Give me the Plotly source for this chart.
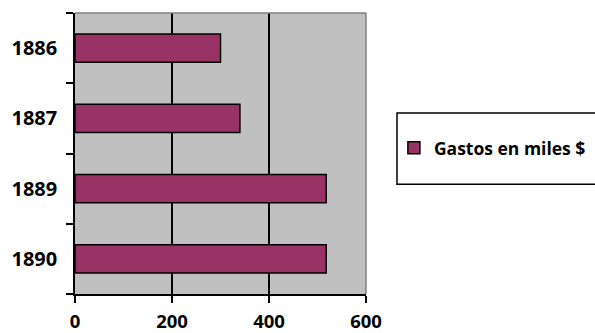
import plotly.graph_objects as go

years = ["1886", "1887", "1889", "1890"]
gastos = [300, 340, 518, 518]
series_name = "Gastos en miles $"
x_ticks = [0, 200, 400, 600]

FONT = "Open Sans"

fig = go.Figure()
fig.add_trace(go.Bar(
    y=years, x=gastos, orientation="h", name="<b>" + series_name + "</b>",
    marker=dict(color="#993366", line=dict(color="black", width=1.5)),
    width=0.4, showlegend=True,
))

fig.update_layout(
    width=595, height=333,
    margin=dict(l=75, r=229, t=13, b=39, autoexpand=False),
    paper_bgcolor="white", plot_bgcolor="#C0C0C0",
    font=dict(family=FONT, size=16, color="black"),
    showlegend=True,
    legend=dict(
        xref="container", yref="container",
        x=0.662, y=0.556, xanchor="left", yanchor="middle",
        borderwidth=0, bgcolor="rgba(0,0,0,0)",
        font=dict(family=FONT, size=17.5, color="black"),
        itemwidth=30,
    ),
    xaxis=dict(
        range=[0, 600], tickvals=x_ticks, ticktext=["<b>%d</b>" % v for v in x_ticks],
        ticks="outside", ticklen=7,
        tickcolor="black", tickwidth=1.5,
        showline=True, linecolor="black", linewidth=1.5,
        showgrid=True, gridcolor="black", gridwidth=1.5,
        zeroline=False, tickfont=dict(family=FONT, size=18.5),
        ticklabelstandoff=3, automargin=False,
    ),
    yaxis=dict(
        type="category", categoryorder="array", categoryarray=years,
        tickvals=years, ticktext=["<b>%s</b>" % y for y in years],
        autorange="reversed", tickson="boundaries", ticks="outside", ticklen=7,
        tickcolor="black", tickwidth=1.5,
        showline=True, linecolor="black", linewidth=1.5, showgrid=False,
        tickfont=dict(family=FONT, size=20),
        ticklabelstandoff=12, automargin=False,
    ),
)
# gray top/right border of plot area
fig.add_shape(type="line", xref="paper", yref="paper", x0=0, x1=1, y0=1, y1=1,
              line=dict(color="#808080", width=1.5))
fig.add_shape(type="line", xref="paper", yref="paper", x0=1, x1=1, y0=0, y1=1,
              line=dict(color="#808080", width=1.5))
# legend frame
fig.add_shape(type="rect", xref="paper", yref="paper", x0=1.1065, x1=1.9, y0=0.391, y1=0.644,
              line=dict(color="black", width=1.5), fillcolor="rgba(0,0,0,0)")

fig.write_html("out.html", config={"displayModeBar": False},
               post_script="document.body.style.margin='0';document.body.style.padding='0';")
